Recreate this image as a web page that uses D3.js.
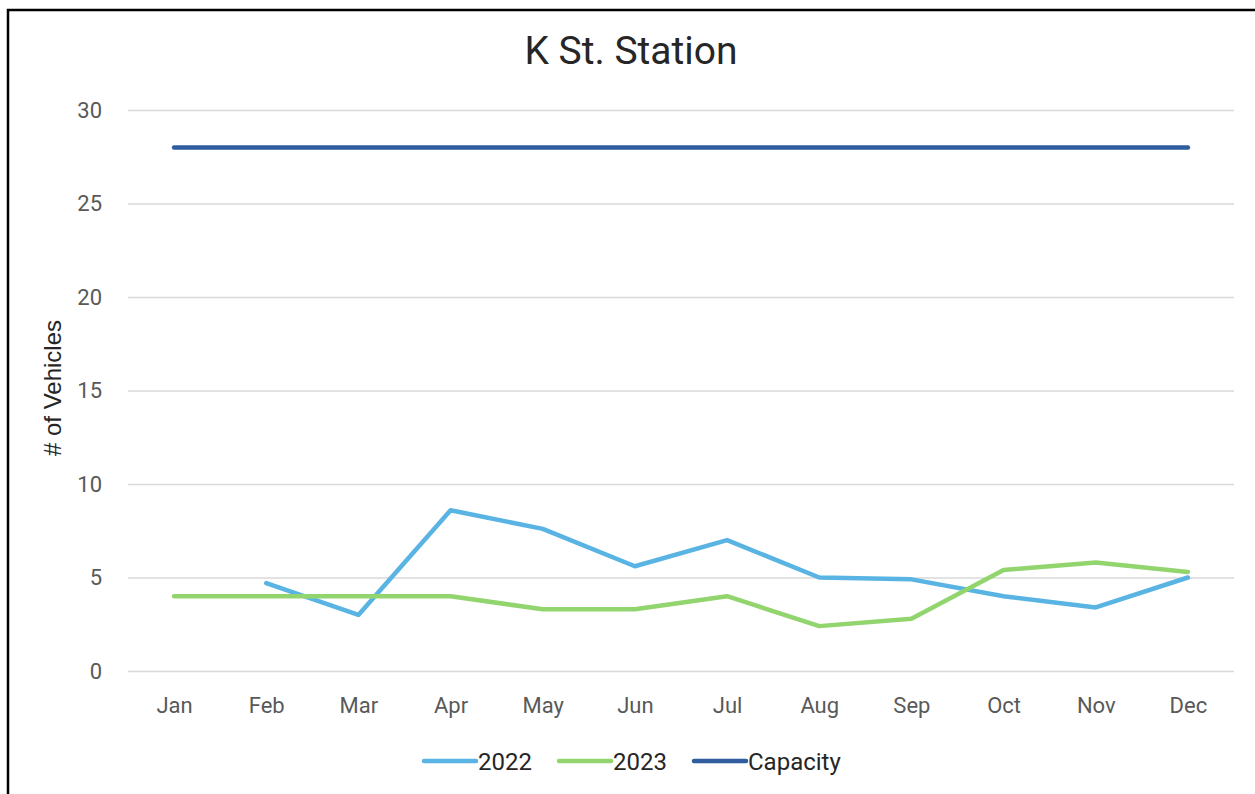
<!DOCTYPE html>
<html lang="en">
<head>
  <meta charset="UTF-8" />
  <title>K St. Station</title>
  <script src="https://d3js.org/d3.v7.min.js"></script>
  <style>
    body {
      margin: 0;
      background: #fff;
    }
    svg {
      display: block;
      font-family: Roboto, "Noto Sans", sans-serif;
    }
    .grid line {
      stroke: #d9d9d9;
      stroke-width: 1.3px;
    }
    .tick text {
      fill: #595959;
    }
    .series {
      fill: none;
      stroke-width: 4.5px;
      stroke-linejoin: round;
      stroke-linecap: round;
    }
  </style>
</head>
<body>
  <svg id="chart" width="1255" height="794"></svg>
  <script>
    const months = ["Jan", "Feb", "Mar", "Apr", "May", "Jun", "Jul", "Aug", "Sep", "Oct", "Nov", "Dec"];
    // 2022 has no value for January
    const values2022 = [null, 4.7, 3.0, 8.6, 7.6, 5.6, 7.0, 5.0, 4.9, 4.0, 3.4, 5.0];
    const values2023 = [4.0, 4.0, 4.0, 4.0, 3.3, 3.3, 4.0, 2.4, 2.8, 5.4, 5.8, 5.3];
    const capacity = [28, 28, 28, 28, 28, 28, 28, 28, 28, 28, 28, 28];
    const yTicks = [0, 5, 10, 15, 20, 25, 30];

    const seriesList = [
      { name: "2022", values: values2022, color: "#5AB4E3" },
      { name: "2023", values: values2023, color: "#92D56E" },
      { name: "Capacity", values: capacity, color: "#2F5D9E" }
    ];

    const svg = d3.select("#chart");
    const plot = { left: 128, right: 1234, top: 110, bottom: 671 };

    // outer frame
    svg.append("path")
      .attr("d", "M8,794V10H1255")
      .attr("fill", "none")
      .attr("stroke", "#000")
      .attr("stroke-width", 2.5);

    const x = d3.scalePoint()
      .domain(months)
      .range([plot.left, plot.right])
      .padding(0.5);

    const y = d3.scaleLinear()
      .domain([0, 30])
      .range([plot.bottom, plot.top]);

    // gridlines
    svg.append("g")
      .attr("class", "grid")
      .attr("transform", `translate(${plot.left},0)`)
      .call(d3.axisLeft(y).tickValues(yTicks).tickSize(-(plot.right - plot.left)).tickFormat(""))
      .call(g => g.select(".domain").remove());

    // y axis labels
    svg.append("g")
      .attr("transform", `translate(${plot.left},0)`)
      .call(d3.axisLeft(y).tickValues(yTicks).tickSize(0).tickPadding(26))
      .call(g => g.select(".domain").remove())
      .selectAll("text")
      .attr("font-size", 22)
      .attr("font-family", "Roboto, sans-serif");

    // x axis labels
    svg.append("g")
      .attr("transform", `translate(0,${plot.bottom})`)
      .call(d3.axisBottom(x).tickSize(0).tickPadding(26))
      .call(g => g.select(".domain").remove())
      .selectAll("text")
      .attr("font-size", 22)
      .attr("font-family", "Roboto, sans-serif");

    const line = d3.line()
      .defined(d => d != null)
      .x((d, i) => x(months[i]))
      .y(d => y(d));

    svg.append("g")
      .selectAll("path")
      .data(seriesList)
      .join("path")
      .attr("class", "series")
      .attr("stroke", d => d.color)
      .attr("d", d => line(d.values));

    // title
    svg.append("text")
      .attr("x", 631)
      .attr("y", 64)
      .attr("text-anchor", "middle")
      .attr("font-size", 39)
      .attr("fill", "#262626")
      .text("K St. Station");

    // y axis title
    svg.append("text")
      .attr("transform", "translate(61,388) rotate(-90)")
      .attr("text-anchor", "middle")
      .attr("font-size", 24)
      .attr("fill", "#262626")
      .attr("font-family", "Liberation Sans, Arial, sans-serif")
      .text("# of Vehicles");

    // legend
    const legendX = [424, 559, 694];
    const legend = svg.append("g")
      .selectAll("g")
      .data(seriesList)
      .join("g")
      .attr("transform", (d, i) => `translate(${legendX[i]},761)`);

    legend.append("line")
      .attr("x1", 0)
      .attr("x2", 52)
      .attr("stroke", d => d.color)
      .attr("stroke-width", 4.5)
      .attr("stroke-linecap", "round");

    legend.append("text")
      .attr("x", 54)
      .attr("y", 9)
      .attr("font-size", 24)
      .attr("fill", "#262626")
      .text(d => d.name);
  </script>
</body>
</html>
